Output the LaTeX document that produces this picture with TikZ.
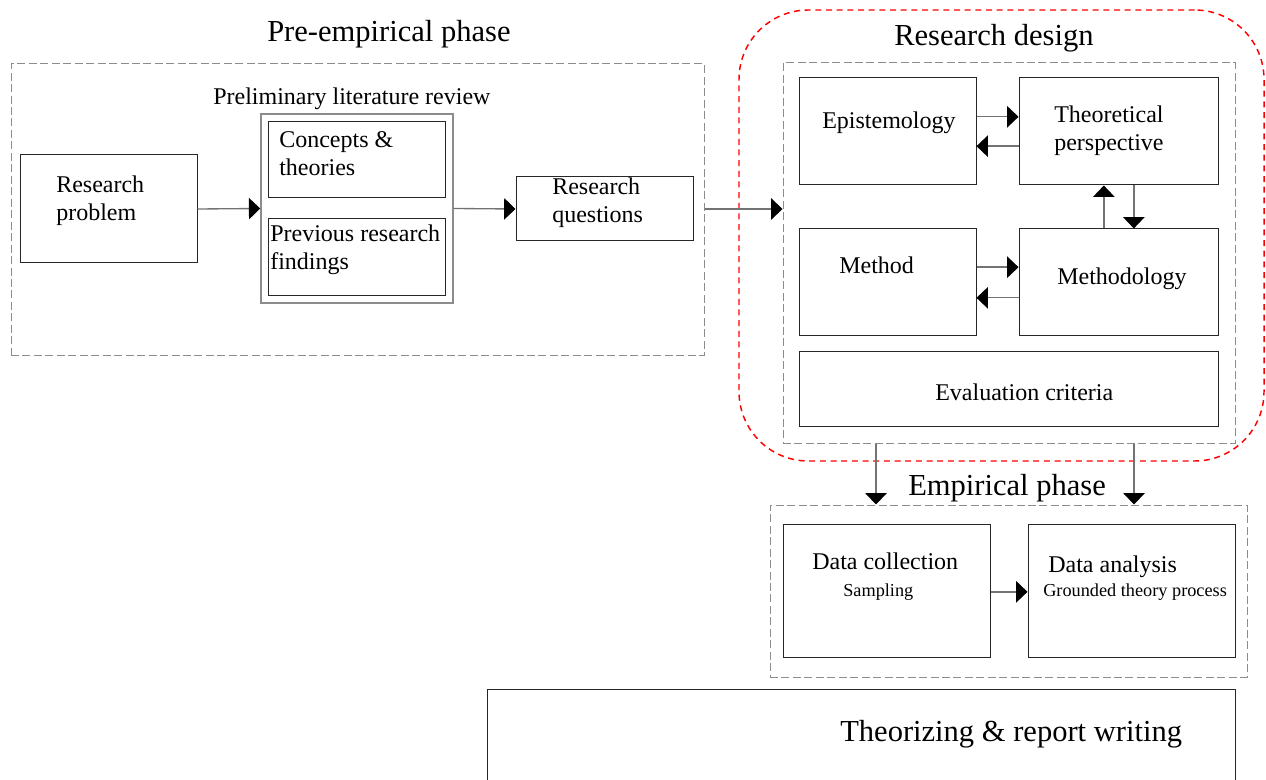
\documentclass[tikz,border=0pt]{standalone}
\usepackage{fontspec}
\setmainfont{Liberation Serif}
\usetikzlibrary{arrows.meta,fit}
\begin{document}
\begin{tikzpicture}[x=0.75pt,y=-0.75pt,
  box/.style={draw=black!85, line width=0.75pt, inner sep=0pt},
  graybox/.style={draw=black!45, line width=1.1pt, inner sep=0pt},
  frame/.style={draw=black!45, line width=0.75pt, dash pattern=on 6pt off 2.6pt, inner sep=0pt},
  redframe/.style={draw=red, line width=1.1pt, dash pattern=on 4.5pt off 3.5pt, rounded corners=52pt, inner sep=0pt},
  txt/.style={anchor=base west, inner sep=0pt, align=left, font=\fontsize{18}{21}\selectfont},
  small/.style={anchor=base west, inner sep=0pt, font=\fontsize{13.7}{16}\selectfont},
  title/.style={anchor=base west, inner sep=0pt, font=\fontsize{22.9}{27}\selectfont},
  link/.style={draw=black!55, line width=1pt, -{Triangle[length=8.5pt,width=16pt,black]}},
]
\useasboundingbox (0,0) rectangle (1266,780);
\clip (0,0) rectangle (1266,780);

% ---------- pre-empirical phase ----------
\node[frame, fit={(11,64) (704,355)}] (pre) {};
\node[title] (pretitle) at (267,42) {Pre-empirical phase};

% two-line labels are placed by the baseline of their last line
\node[box, fit={(20,155) (197,263)}] (rp) {};
\node[txt] (rptext) at (56,221) {Research\\problem};

\node[graybox, fit={(261,114) (453,303)}] (lit) {};
\node[txt] (littitle) at (213,105) {Preliminary literature review};
\node[box, fit={(268,122) (445,198)}] (ct) {};
\node[txt] (cttext) at (279,176) {Concepts \&\\theories};
\node[box, fit={(268,219) (445,296)}] (prf) {};
\node[txt] (prftext) at (270,270) {Previous research\\findings};

\node[box, fit={(516,177) (693,241)}] (rq) {};
\node[txt] (rqtext) at (552,223) {Research\\questions};

% ---------- research design ----------
\node[redframe, fit={(739,10) (1264,461)}] (rd) {};
\node[title] (rdtitle) at (894,46) {Research design};
\node[frame, fit={(783,63) (1235,443)}] (din) {};

\node[box, fit={(799,78) (976,185)}] (epi) {};
\node[txt] (epitext) at (822,129) {Epistemology};
\node[box, fit={(1019,78) (1218,185)}] (theo) {};
\node[txt] (theotext) at (1054,151) {Theoretical\\perspective};

\node[box, fit={(799,229) (976,336)}] (meth) {};
\node[txt] (methtext) at (839,274) {Method};
\node[box, fit={(1019,229) (1218,336)}] (mgy) {};
\node[txt] (mgytext) at (1057,285) {Methodology};

\node[box, fit={(799,351) (1218,426)}] (evc) {};
\node[txt] (evctext) at (935,400) {Evaluation criteria};

% ---------- empirical phase ----------
\node[title] (emptitle) at (908,495) {Empirical phase};
\node[frame, fit={(770,505) (1247,677)}] (emp) {};
\node[box, fit={(783,524) (990,657)}] (dc) {};
\node[txt] (dctext) at (812,569) {Data collection};
\node[small] (samp) at (843,596) {Sampling};
\node[box, fit={(1028,524) (1235,657)}] (da) {};
\node[txt] (datext) at (1048,572) {Data analysis};
\node[small] (gtp) at (1043,596) {Grounded theory process};

% ---------- theorizing ----------
\node[box, fit={(487,689) (1235,800)}] (tr) {};
\node[title] (trtext) at (840,741) {Theorizing \& report writing};

% ---------- connectors ----------
\draw[link] (rp.east) -- (lit.west);
\draw[link] (lit.east) -- (rq.west);
\draw[link] (pre.east |- rq.east) -- (din.west |- rq.east);

\draw[link] ([yshift=11pt]epi.east) -- ([yshift=11pt]theo.west);
\draw[link] ([yshift=-11pt]theo.west) -- ([yshift=-11pt]epi.east);
\draw[link] ([yshift=11.5pt]meth.east) -- ([yshift=11.5pt]mgy.west);
\draw[link] ([yshift=-11.5pt]mgy.west) -- ([yshift=-11.5pt]meth.east);
\draw[link] ([xshift=-11pt]mgy.north) -- ([xshift=-11pt]theo.south);
\draw[link] ([xshift=11.5pt]theo.south) -- ([xshift=11.5pt]mgy.north);

\draw[link] (din.south -| 876,0) -- (emp.north -| 876,0);
\draw[link] (din.south -| 1134,0) -- (emp.north -| 1134,0);

\draw[link] ([yshift=-1pt]dc.east) -- ([yshift=-1pt]da.west);
\end{tikzpicture}
\end{document}
